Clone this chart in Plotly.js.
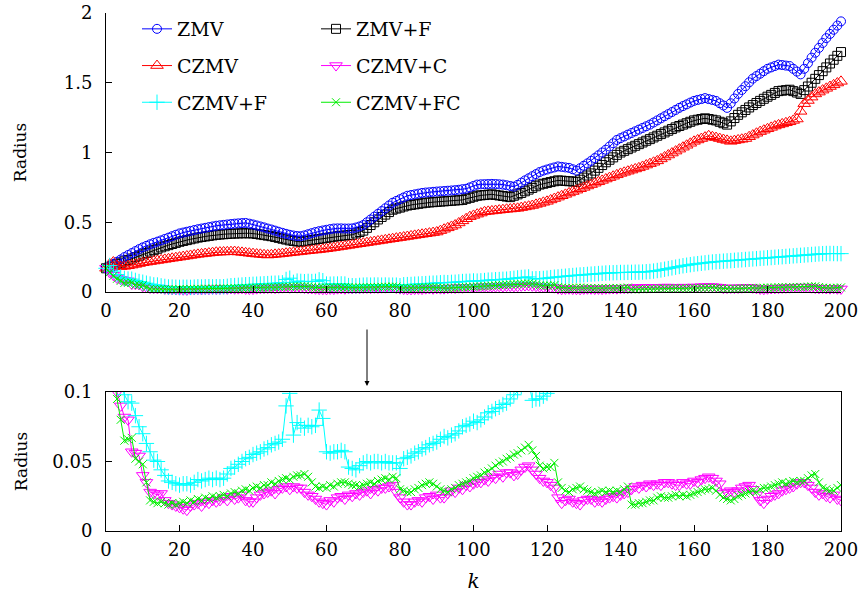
<!DOCTYPE html>
<html>
<head>
<meta charset="utf-8">
<script src="https://cdn.plot.ly/plotly-3.0.1.min.js"></script>
<style>html,body{margin:0;padding:0;background:#fff;}#chart{width:861px;height:599px;}</style>
</head>
<body>
<div id="chart"></div>
<script>
const steps = Array.from({length: 201}, (_, i) => i);
const xTickVals = [0, 20, 40, 60, 80, 100, 120, 140, 160, 180, 200];
const seriesNames = ["ZMV", "ZMV+F", "CZMV", "CZMV+C", "CZMV+F", "CZMV+FC"];

const zmv = [0.170,0.185,0.200,0.217,0.233,0.250,0.265,0.279,0.293,0.307,0.320,0.331,0.342,0.352,0.361,0.370,0.380,0.390,0.400,0.410,
0.420,0.426,0.432,0.438,0.444,0.450,0.455,0.460,0.465,0.470,0.475,0.478,0.481,0.484,0.487,0.490,0.492,0.494,0.495,0.490,
0.484,0.477,0.470,0.463,0.455,0.448,0.440,0.432,0.424,0.417,0.410,0.405,0.401,0.400,0.406,0.414,0.422,0.430,0.436,0.441,
0.446,0.451,0.455,0.456,0.456,0.455,0.455,0.456,0.462,0.470,0.480,0.500,0.520,0.540,0.560,0.580,0.600,0.620,0.640,0.653,
0.665,0.678,0.690,0.695,0.700,0.705,0.710,0.713,0.715,0.718,0.720,0.722,0.724,0.726,0.728,0.730,0.733,0.737,0.740,0.750,
0.760,0.770,0.772,0.773,0.774,0.775,0.774,0.772,0.770,0.765,0.760,0.755,0.768,0.784,0.800,0.815,0.830,0.845,0.860,0.870,
0.878,0.886,0.893,0.900,0.897,0.893,0.890,0.880,0.870,0.887,0.905,0.922,0.940,0.960,0.980,1.000,1.020,1.043,1.066,1.090,
1.103,1.115,1.128,1.140,1.152,1.164,1.176,1.188,1.200,1.215,1.230,1.245,1.260,1.275,1.290,1.305,1.320,1.333,1.345,1.358,
1.370,1.377,1.383,1.390,1.383,1.377,1.370,1.353,1.337,1.320,1.353,1.387,1.420,1.448,1.475,1.503,1.530,1.548,1.565,1.583,
1.600,1.610,1.620,1.630,1.627,1.623,1.620,1.600,1.580,1.560,1.600,1.640,1.680,1.715,1.750,1.785,1.820,1.850,1.880,1.910,1.940];

const zmvF = [0.170,0.180,0.190,0.200,0.210,0.220,0.230,0.240,0.250,0.260,0.270,0.280,0.290,0.300,0.310,0.320,0.328,0.336,0.344,0.352,
0.360,0.366,0.372,0.378,0.384,0.390,0.394,0.398,0.402,0.406,0.410,0.412,0.414,0.416,0.418,0.419,0.420,0.421,0.421,0.421,
0.420,0.416,0.412,0.408,0.404,0.400,0.394,0.388,0.382,0.376,0.370,0.366,0.362,0.360,0.364,0.368,0.372,0.376,0.380,0.384,
0.388,0.392,0.396,0.400,0.403,0.405,0.408,0.410,0.420,0.430,0.440,0.460,0.480,0.500,0.520,0.538,0.555,0.573,0.590,0.598,
0.605,0.613,0.620,0.624,0.628,0.632,0.636,0.640,0.642,0.644,0.646,0.648,0.650,0.652,0.654,0.656,0.658,0.660,0.668,0.675,
0.683,0.690,0.693,0.695,0.698,0.700,0.696,0.692,0.688,0.684,0.680,0.690,0.700,0.710,0.722,0.734,0.746,0.758,0.770,0.776,
0.782,0.788,0.794,0.800,0.798,0.796,0.794,0.792,0.790,0.805,0.820,0.835,0.850,0.870,0.890,0.910,0.930,0.948,0.965,0.983,
1.000,1.012,1.024,1.036,1.048,1.060,1.072,1.084,1.096,1.108,1.120,1.132,1.144,1.156,1.168,1.180,1.190,1.200,1.210,1.220,
1.230,1.235,1.240,1.245,1.240,1.235,1.230,1.220,1.210,1.200,1.223,1.247,1.270,1.288,1.305,1.323,1.340,1.355,1.370,1.385,
1.400,1.413,1.427,1.440,1.443,1.447,1.450,1.440,1.430,1.420,1.447,1.473,1.500,1.528,1.555,1.583,1.610,1.638,1.665,1.693,1.720];

const czmv = [0.170,0.200,0.215,0.190,0.182,0.184,0.188,0.193,0.198,0.204,0.210,0.214,0.218,0.222,0.226,0.230,0.234,0.238,0.242,0.246,
0.250,0.254,0.258,0.262,0.266,0.270,0.273,0.276,0.279,0.282,0.285,0.286,0.287,0.288,0.289,0.290,0.287,0.284,0.281,0.278,
0.275,0.272,0.270,0.267,0.265,0.267,0.270,0.272,0.275,0.278,0.281,0.284,0.287,0.290,0.293,0.296,0.299,0.301,0.304,0.307,
0.310,0.314,0.318,0.322,0.326,0.330,0.334,0.338,0.342,0.346,0.350,0.354,0.358,0.362,0.366,0.370,0.374,0.378,0.382,0.386,
0.390,0.394,0.398,0.402,0.406,0.410,0.414,0.418,0.422,0.426,0.430,0.440,0.450,0.460,0.470,0.480,0.495,0.510,0.525,0.540,
0.549,0.558,0.566,0.575,0.578,0.581,0.584,0.587,0.590,0.593,0.595,0.598,0.600,0.605,0.610,0.615,0.620,0.628,0.635,0.643,
0.650,0.660,0.670,0.680,0.690,0.700,0.710,0.720,0.730,0.740,0.750,0.760,0.770,0.780,0.790,0.800,0.810,0.820,0.830,0.840,
0.850,0.858,0.866,0.874,0.882,0.890,0.900,0.910,0.920,0.930,0.940,0.954,0.968,0.982,0.996,1.010,1.024,1.038,1.052,1.066,
1.080,1.090,1.100,1.110,1.120,1.113,1.107,1.100,1.093,1.087,1.080,1.085,1.090,1.095,1.100,1.113,1.125,1.138,1.150,1.160,
1.170,1.180,1.190,1.198,1.205,1.213,1.220,1.230,1.240,1.295,1.350,1.373,1.397,1.420,1.433,1.447,1.460,1.473,1.485,1.498,1.510];

const czmvC = [0.170,0.140,0.120,0.100,0.090,0.082,0.080,0.057,0.056,0.054,0.040,0.035,0.028,0.027,0.026,0.027,0.022,0.020,0.019,0.018,
0.017,0.016,0.015,0.018,0.019,0.020,0.018,0.021,0.020,0.022,0.021,0.022,0.024,0.022,0.025,0.023,0.024,0.026,0.022,0.021,
0.021,0.024,0.026,0.027,0.028,0.029,0.027,0.030,0.031,0.032,0.030,0.032,0.031,0.031,0.028,0.026,0.025,0.023,0.021,0.020,
0.019,0.022,0.021,0.024,0.025,0.023,0.026,0.025,0.027,0.026,0.028,0.029,0.027,0.030,0.029,0.031,0.031,0.032,0.033,0.028,
0.024,0.021,0.019,0.019,0.021,0.022,0.021,0.024,0.025,0.023,0.026,0.024,0.024,0.027,0.029,0.028,0.031,0.030,0.033,0.032,
0.034,0.035,0.035,0.037,0.036,0.039,0.038,0.041,0.039,0.042,0.042,0.040,0.041,0.044,0.046,0.047,0.044,0.041,0.038,0.036,
0.035,0.033,0.031,0.024,0.020,0.022,0.023,0.021,0.020,0.019,0.022,0.023,0.023,0.021,0.022,0.021,0.023,0.024,0.025,0.024,
0.026,0.027,0.028,0.030,0.032,0.031,0.033,0.032,0.034,0.033,0.034,0.033,0.035,0.035,0.034,0.033,0.033,0.035,0.034,0.034,
0.036,0.035,0.037,0.038,0.039,0.038,0.036,0.034,0.027,0.028,0.029,0.028,0.029,0.031,0.032,0.033,0.030,0.026,0.022,0.020,
0.023,0.025,0.026,0.027,0.029,0.030,0.031,0.032,0.034,0.035,0.035,0.033,0.031,0.028,0.026,0.027,0.025,0.024,0.026,0.023,0.022];

const czmvF = [0.170,0.190,0.150,0.125,0.108,0.098,0.093,0.092,0.083,0.075,0.070,0.063,0.057,0.051,0.050,0.044,0.040,0.036,0.035,0.034,
0.033,0.034,0.034,0.033,0.035,0.037,0.036,0.037,0.038,0.037,0.038,0.037,0.038,0.041,0.045,0.046,0.048,0.050,0.052,0.053,
0.055,0.056,0.057,0.059,0.060,0.062,0.063,0.064,0.066,0.090,0.099,0.069,0.078,0.076,0.074,0.076,0.075,0.076,0.087,0.081,
0.057,0.056,0.057,0.057,0.058,0.057,0.046,0.045,0.044,0.047,0.049,0.050,0.049,0.050,0.050,0.049,0.050,0.049,0.049,0.049,
0.045,0.052,0.053,0.054,0.056,0.057,0.059,0.060,0.062,0.063,0.064,0.066,0.068,0.067,0.069,0.070,0.072,0.075,0.076,0.077,
0.079,0.078,0.080,0.082,0.085,0.086,0.088,0.089,0.091,0.092,0.095,0.098,0.101,0.104,0.106,0.108,0.094,0.095,0.095,0.097,
0.099,0.103,0.106,0.108,0.111,0.113,0.116,0.118,0.120,0.122,0.124,0.126,0.128,0.130,0.132,0.134,0.136,0.137,0.138,0.139,
0.140,0.140,0.141,0.141,0.142,0.142,0.143,0.145,0.147,0.150,0.154,0.158,0.163,0.168,0.173,0.178,0.183,0.188,0.192,0.196,
0.200,0.203,0.206,0.209,0.212,0.215,0.217,0.219,0.221,0.223,0.225,0.227,0.229,0.231,0.233,0.235,0.237,0.239,0.241,0.243,
0.245,0.247,0.249,0.251,0.253,0.255,0.257,0.259,0.261,0.263,0.265,0.267,0.269,0.271,0.273,0.275,0.276,0.276,0.276,0.275,0.275];

const czmvFC = [0.170,0.140,0.115,0.095,0.080,0.065,0.066,0.067,0.052,0.050,0.048,0.035,0.022,0.021,0.020,0.021,0.020,0.019,0.020,0.019,
0.020,0.021,0.020,0.022,0.021,0.023,0.022,0.024,0.023,0.025,0.024,0.025,0.026,0.025,0.027,0.028,0.027,0.029,0.030,0.029,
0.031,0.032,0.031,0.033,0.033,0.035,0.034,0.036,0.037,0.038,0.037,0.039,0.040,0.040,0.041,0.039,0.035,0.032,0.031,0.032,
0.031,0.033,0.032,0.034,0.035,0.035,0.034,0.033,0.033,0.032,0.033,0.034,0.035,0.034,0.036,0.037,0.038,0.037,0.039,0.038,
0.030,0.029,0.028,0.028,0.030,0.031,0.033,0.034,0.035,0.034,0.032,0.030,0.029,0.028,0.030,0.031,0.033,0.034,0.035,0.036,
0.038,0.039,0.040,0.042,0.043,0.045,0.047,0.049,0.050,0.052,0.053,0.055,0.056,0.058,0.060,0.062,0.058,0.054,0.047,0.045,
0.046,0.046,0.049,0.035,0.031,0.029,0.028,0.030,0.031,0.032,0.030,0.029,0.028,0.027,0.028,0.029,0.028,0.029,0.028,0.029,
0.028,0.030,0.032,0.019,0.019,0.020,0.020,0.021,0.022,0.022,0.024,0.025,0.024,0.024,0.025,0.026,0.025,0.026,0.025,0.026,
0.027,0.028,0.029,0.030,0.030,0.031,0.029,0.026,0.024,0.023,0.022,0.023,0.025,0.026,0.027,0.028,0.029,0.028,0.030,0.031,
0.031,0.032,0.033,0.034,0.035,0.034,0.035,0.036,0.035,0.036,0.036,0.038,0.040,0.041,0.035,0.031,0.030,0.029,0.029,0.031,0.033];

const FONT = "DejaVu Serif";

function mk(name, y, color, symbol, size, legend, xa, ya, showLegend, clip) {
  return {
    x: steps, y: y, name: name, type: "scatter", mode: "lines+markers",
    xaxis: xa, yaxis: ya, legend: legend, legendgroup: name + xa,
    showlegend: showLegend, cliponaxis: clip,
    line: {color: color, width: 1},
    marker: {symbol: symbol, size: size, color: color, line: {color: color, width: 1}}
  };
}

const traces = [
  mk(seriesNames[1], zmvF, "#000000", "square-open", 9, "legend2", "x", "y", true, false),
  mk(seriesNames[0], zmv, "#0000ff", "circle-open", 9, "legend", "x", "y", true, false),
  mk(seriesNames[2], czmv, "#ff0000", "triangle-up-open", 11, "legend", "x", "y", true, false),
  mk(seriesNames[3], czmvC, "#ff00ff", "triangle-down-open", 11, "legend2", "x", "y", true, false),
  mk(seriesNames[4], czmvF, "#00ffff", "cross-thin-open", 11, "legend", "x", "y", true, false),
  mk(seriesNames[5], czmvFC, "#00ee00", "x-thin-open", 8, "legend2", "x", "y", true, false),
  mk(seriesNames[3], czmvC, "#ff00ff", "triangle-down-open", 11, "legend2", "x2", "y2", false, true),
  mk(seriesNames[4], czmvF, "#00ffff", "cross-thin-open", 11, "legend", "x2", "y2", false, true),
  mk(seriesNames[5], czmvFC, "#00ee00", "x-thin-open", 8, "legend2", "x2", "y2", false, true)
];

const W = 861, H = 599;
const px = v => v / W;
const py = v => 1 - v / H;

const axBase = {
  showgrid: false, zeroline: false, showline: true, linecolor: "#000", linewidth: 1,
  ticks: "inside", ticklen: 6, tickcolor: "#000", tickwidth: 1,
  tickfont: {family: FONT, size: 18, color: "#000"}
};

const legBase = {
  font: {family: FONT, size: 19, color: "#000"},
  bgcolor: "rgba(0,0,0,0)", borderwidth: 0,
  traceorder: "grouped", tracegroupgap: 9,
  xanchor: "left", yanchor: "top", itemwidth: 30
};

const layout = {
  width: W, height: H,
  margin: {l: 0, r: 0, t: 0, b: 0},
  paper_bgcolor: "#fff", plot_bgcolor: "#fff",
  font: {family: FONT, color: "#000"},
  xaxis: Object.assign({}, axBase, {
    domain: [px(106), px(841)], range: [0, 200], anchor: "y",
    tickvals: xTickVals, ticklabelstandoff: 2
  }),
  yaxis: Object.assign({}, axBase, {
    domain: [py(292), py(13)], range: [0, 2], anchor: "x",
    tickvals: [0, 0.5, 1, 1.5, 2], ticklabelstandoff: 9,
    title: {text: "Radius", font: {family: FONT, size: 17, color: "#000"}, standoff: 32}
  }),
  xaxis2: Object.assign({}, axBase, {
    domain: [px(106), px(841)], range: [0, 200], anchor: "y2", mirror: true,
    tickvals: xTickVals, ticklabelstandoff: 2,
    title: {text: "<i>k</i>", font: {family: FONT, size: 20, color: "#000"}, standoff: 15}
  }),
  yaxis2: Object.assign({}, axBase, {
    domain: [py(531), py(392)], range: [0, 0.1], anchor: "x2", mirror: true,
    tickvals: [0, 0.05, 0.1], ticktext: ["0", "0.05", "0.1"], ticklabelstandoff: 9,
    title: {text: "Radius", font: {family: FONT, size: 17, color: "#000"}, standoff: 20}
  }),
  legend: Object.assign({}, legBase, {x: px(137), y: py(10)}),
  legend2: Object.assign({}, legBase, {x: px(316), y: py(10)}),
  annotations: [{
    xref: "paper", yref: "paper", x: px(367), y: py(386),
    ax: 0, ay: -58, axref: "pixel", ayref: "pixel",
    text: "", showarrow: true, arrowhead: 2, arrowsize: 1, arrowwidth: 1, arrowcolor: "#000"
  }]
};

Plotly.newPlot("chart", traces, layout, {staticPlot: true, displayModeBar: false});
</script>
</body>
</html>
